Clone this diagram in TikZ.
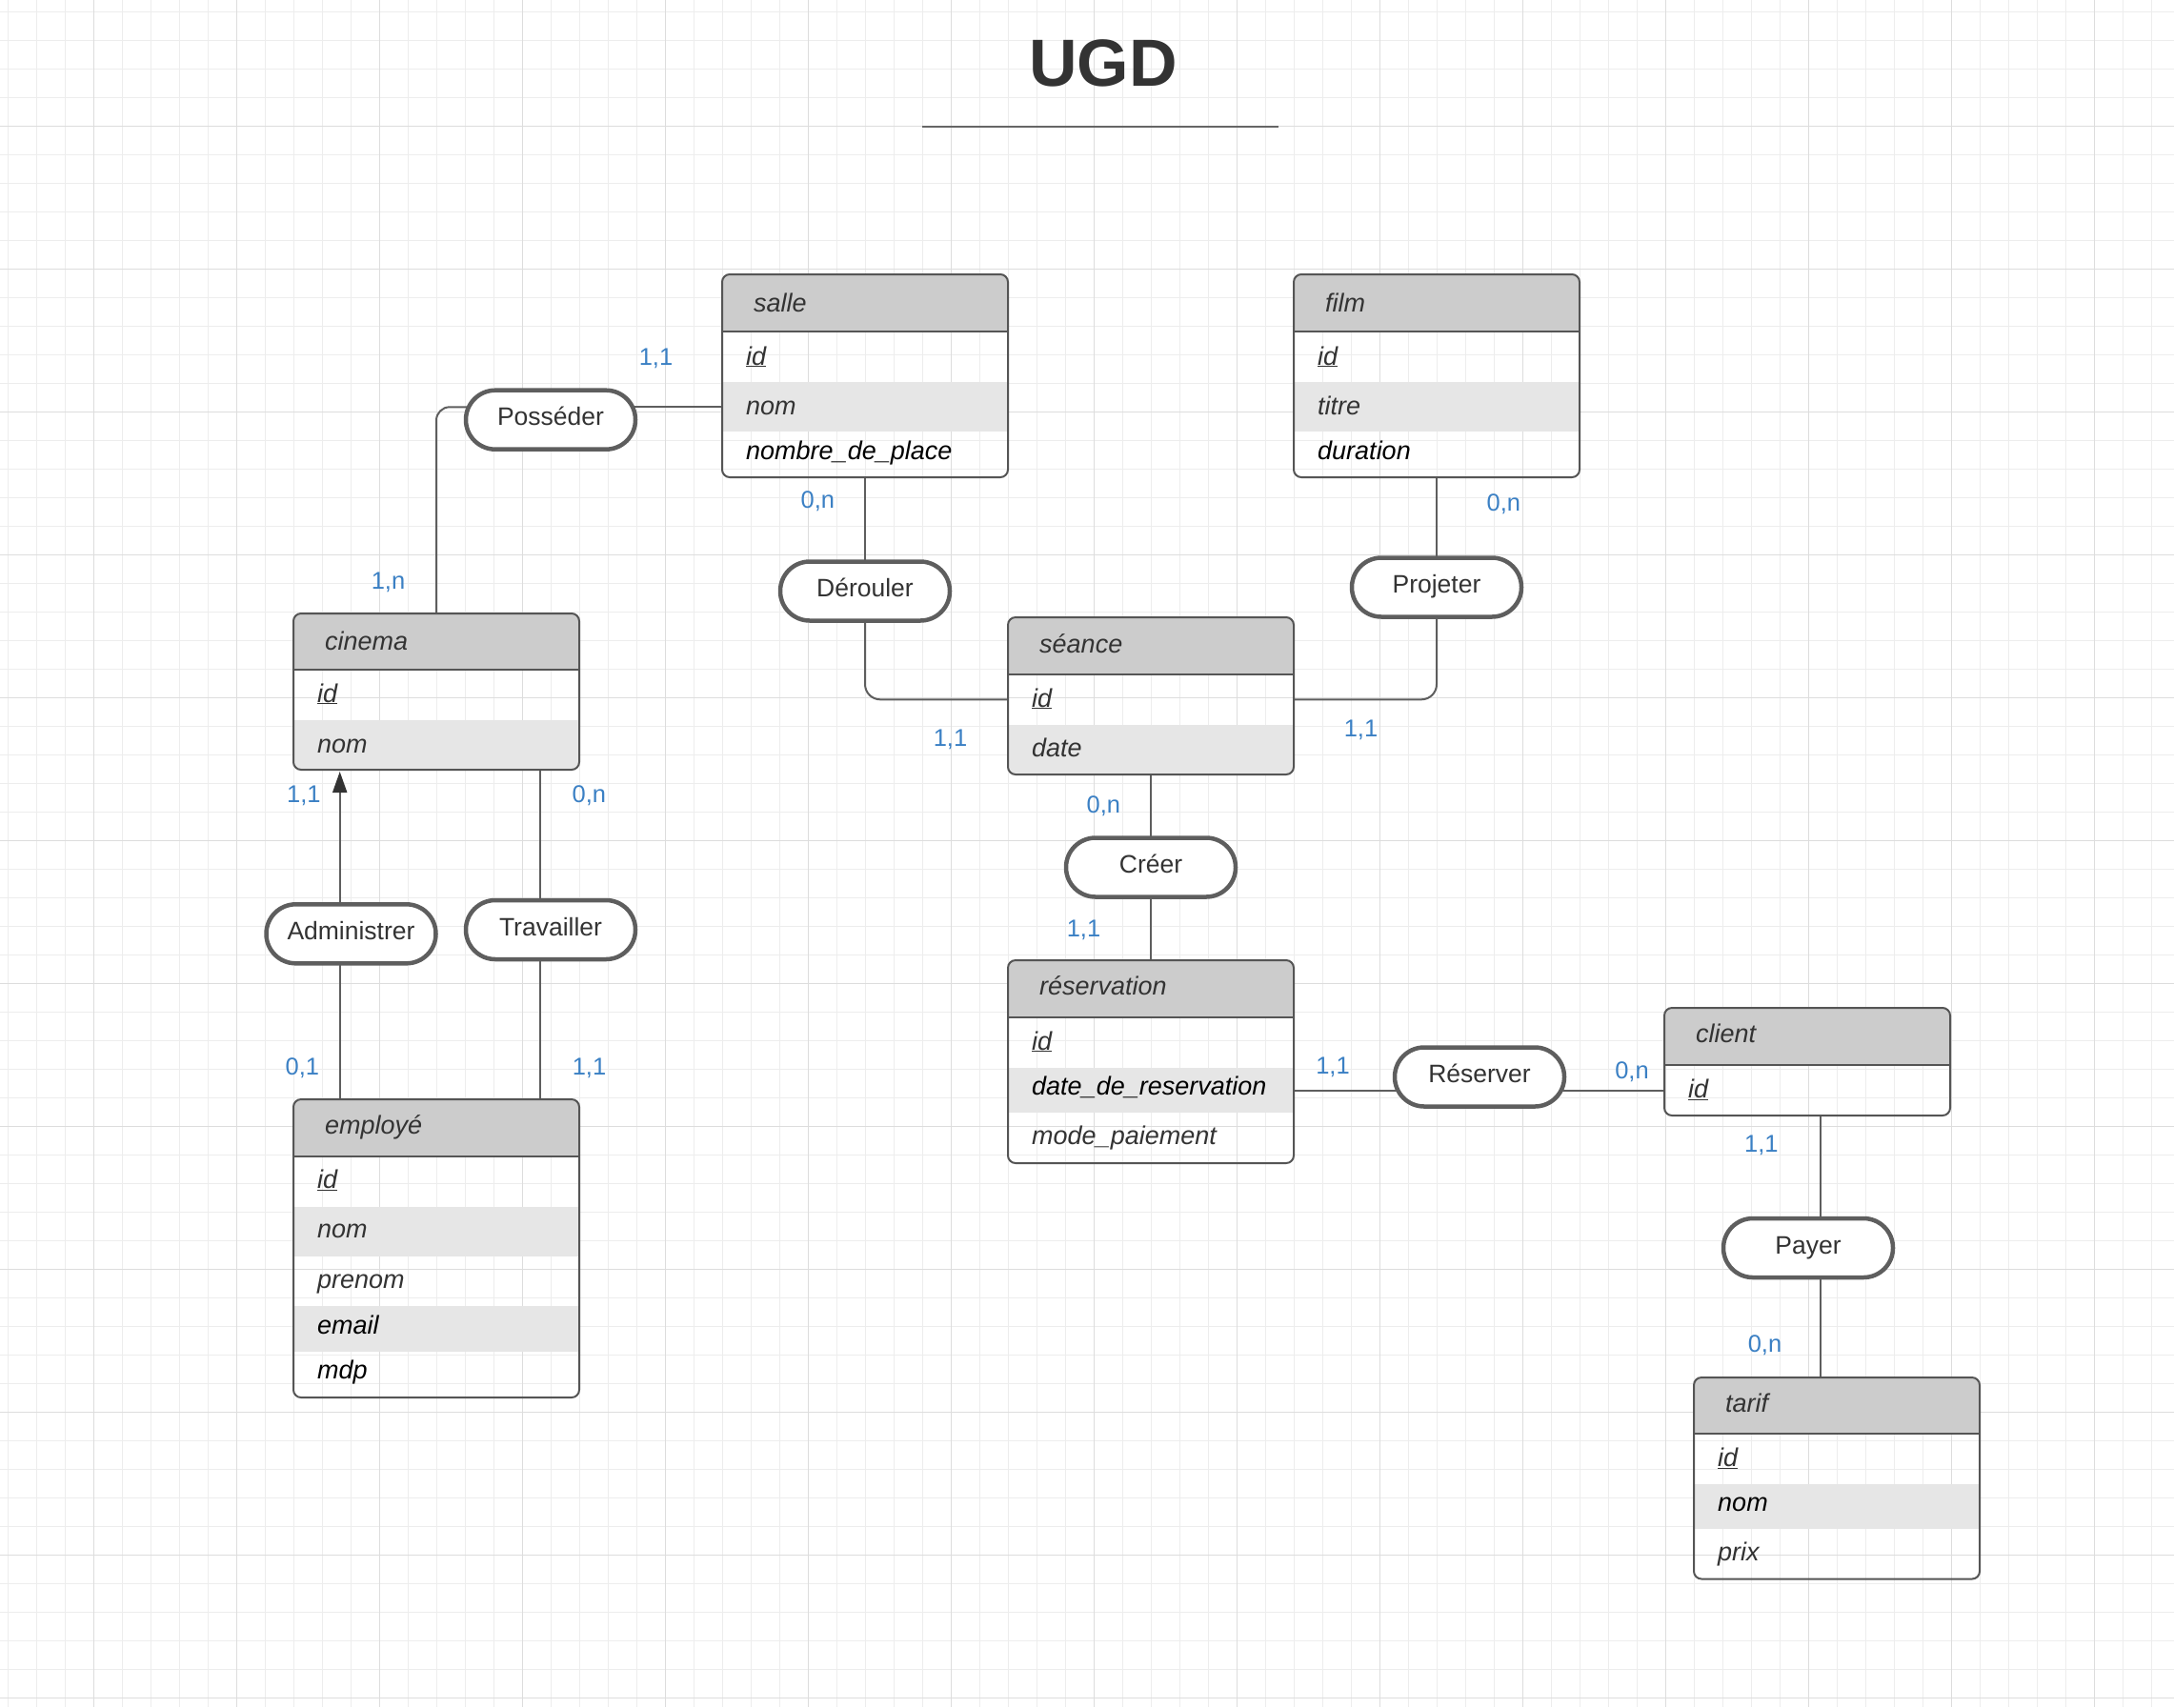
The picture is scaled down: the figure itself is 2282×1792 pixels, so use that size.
\documentclass[tikz,border=0pt]{standalone}
\usepackage{fontspec}
\setmainfont{Liberation Sans}
\usetikzlibrary{arrows.meta}
\pgfdeclarelayer{grid}
\pgfdeclarelayer{edges}
\pgfsetlayers{grid,edges,main}
\definecolor{c333}{HTML}{333333}
\definecolor{c555}{HTML}{555555}
\definecolor{c5e}{HTML}{5E5E5E}
\definecolor{c666}{HTML}{666666}
\definecolor{hdrgray}{HTML}{CCCCCC}
\definecolor{rowgray}{HTML}{E6E6E6}
\definecolor{gridminor}{HTML}{EDEDED}
\definecolor{gridmajor}{HTML}{DDDDDD}
\definecolor{lblue}{HTML}{3B80C4}
\tikzset{
  hdrfill/.style={fill=hdrgray},
  rowfill/.style={fill=rowgray},
  tablebox/.style={draw=c555, line width=2pt, rounded corners=8pt, minimum width=300pt, inner sep=0pt, outer sep=0pt},
  tableline/.style={draw=c555, line width=2pt},
  hdrtext/.style={anchor=base west, inner sep=0pt, text=c333, font=\itshape\fontsize{27}{32}\selectfont},
  rowtext/.style={anchor=base west, inner sep=0pt, text=c333, font=\itshape\fontsize{27}{32}\selectfont},
  rowblack/.style={rowtext, text=black},
  rel/.style={draw=c5e, line width=4.5pt, fill=white, rounded corners=30.9pt, minimum width=178pt, minimum height=62pt, inner sep=0pt, text height=19pt, text depth=7pt, text=c333, font=\fontsize{26.5}{31}\selectfont},
  conn/.style={draw=c5e, line width=2pt},
  card/.style={anchor=base, inner sep=0pt, text=lblue, font=\fontsize{25.5}{30}\selectfont},
  gmin/.style={draw=gridminor, line width=1pt},
  gmaj/.style={draw=gridmajor, line width=1pt}
}
\newcommand\ertab[8]{%
  \begin{scope}
    \clip[rounded corners=8pt] (#2,#3) rectangle (#2+300,#5);
    \fill[hdrfill] (#2,#3) rectangle (#2+300,#4);
    \foreach \ya/\yb in {#7}{\fill[rowfill] (#2,\ya) rectangle (#2+300,\yb);}
  \end{scope}
  \pgfmathsetmacro\tabh{#5-#3}
  \node[tablebox, minimum height=\tabh pt, anchor=north west] (#1) at (#2,#3) {};
  \draw[tableline] (#2,#4) -- (#2+300,#4);
  \node[hdrtext] (#1-title) at (#2+33,#8) {#6};
}
\begin{document}
\begin{tikzpicture}[x=1pt,y=-1pt]
\useasboundingbox (0,0) rectangle (2282,1792);
\begin{pgfonlayer}{grid}
  \fill[white] (0,0) rectangle (2282,1792);
  \foreach \i in {0,...,75} \draw[gmin] ({8.3+30*\i},0) -- ({8.3+30*\i},1792);
  \foreach \j in {0,...,59} \draw[gmin] (0,{12.3+30*\j}) -- (2282,{12.3+30*\j});
  \foreach \i in {0,...,14} \draw[gmaj] ({98.3+150*\i},0) -- ({98.3+150*\i},1792);
  \foreach \j in {0,...,11} \draw[gmaj] (0,{132.3+150*\j}) -- (2282,{132.3+150*\j});
\end{pgfonlayer}

% title
\node[anchor=base, inner sep=0pt, text=c333, font=\bfseries\fontsize{70}{84}\selectfont] (title) at (1158,90) {UGD};
\draw[line width=2pt, c666] (968,132.7) -- (1342,132.7);

% entity tables
\ertab{salle}{758}{288}{348}{501}{salle}{401/453}{327}
\node[rowtext] (salle-id) at (783,383) {\underline{id}};
\node[rowtext] (salle-nom) at (783,435) {nom};
\node[rowblack] (salle-nb) at (783,482) {nombre\_de\_place};

\ertab{film}{1358}{288}{348}{501}{film}{401/453}{327}
\node[rowtext] (film-id) at (1383,383) {\underline{id}};
\node[rowtext] (film-titre) at (1383,435) {titre};
\node[rowblack] (film-dur) at (1383,482) {duration};

\ertab{cinema}{308}{644}{703}{808}{cinema}{756/808}{682}
\node[rowtext] (cinema-id) at (333,737) {\underline{id}};
\node[rowtext] (cinema-nom) at (333,790) {nom};

\ertab{seance}{1058}{648}{708}{813}{séance}{761/813}{685}
\node[rowtext] (seance-id) at (1083,742) {\underline{id}};
\node[rowtext] (seance-date) at (1083,794) {date};

\ertab{reservation}{1058}{1008}{1068}{1221}{réservation}{1121/1168}{1044}
\node[rowtext] (res-id) at (1083,1102) {\underline{id}};
\node[rowblack] (res-date) at (1083,1149) {date\_de\_reservation};
\node[rowtext] (res-mode) at (1083,1201) {mode\_paiement};

\ertab{client}{1747}{1058}{1118}{1171}{client}{1118/1118}{1094}
\node[rowtext] (client-id) at (1772,1152.5) {\underline{id}};

\ertab{tarif}{1778}{1446}{1505}{1657.5}{tarif}{1558/1605}{1482}
\node[rowtext] (tarif-id) at (1803,1539.5) {\underline{id}};
\node[rowblack] (tarif-nom) at (1803,1586) {nom};
\node[rowtext] (tarif-prix) at (1803,1638.5) {prix};

\ertab{employe}{308}{1154}{1214}{1467}{employé}{1267/1319,1371/1419}{1190}
\node[rowtext] (emp-id) at (333,1247) {\underline{id}};
\node[rowtext] (emp-nom) at (333,1299) {nom};
\node[rowtext] (emp-prenom) at (333,1352) {prenom};
\node[rowblack] (emp-email) at (333,1400) {email};
\node[rowblack] (emp-mdp) at (333,1447) {mdp};

% relationships
\node[rel] (possed) at (578,440.7) {Posséder};
\node[rel] (derouler) at (908,620.5) {Dérouler};
\node[rel] (projeter) at (1508,616.5) {Projeter};
\node[rel] (creer) at (1208,910.5) {Créer};
\node[rel] (reserver) at (1553,1130.5) {Réserver};
\node[rel] (payer) at (1898,1310) {Payer};
\node[rel] (administrer) at (368.5,980.3) {Administrer};
\node[rel] (travailler) at (578,976) {Travailler};

% connector end points
\coordinate (salle-nomW) at (758,427.3);
\coordinate (seance-idW) at (1058,734.3);
\coordinate (seance-idE) at (1358,734.3);
\coordinate (res-dateE) at (1358,1144.5);
\coordinate (client-idW) at (1747,1144.5);
\coordinate (client-payS) at (1911,1171);
\coordinate (tarif-payN) at (1911,1446);
\coordinate (cinema-admS) at (356.7,810);
\coordinate (cinema-travS) at (566.7,808);
\coordinate (emp-admN) at (356.7,1154);
\coordinate (emp-travN) at (566.7,1154);

\begin{pgfonlayer}{edges}
  \draw[conn] (possed.center |- salle-nomW) -- (salle-nomW);
  \draw[conn, rounded corners=14pt] (possed.center |- salle-nomW) -| (cinema.north);
  \draw[conn] (salle.south) -- (derouler.center);
  \draw[conn, rounded corners=16pt] (derouler.center) |- (seance-idW);
  \draw[conn] (film.south) -- (projeter.center);
  \draw[conn, rounded corners=16pt] (projeter.center) |- (seance-idE);
  \draw[conn] (seance.south) -- (creer.center);
  \draw[conn] (creer.center) -- (reservation.north);
  \draw[conn] (res-dateE) -- (res-dateE -| reserver.center);
  \draw[conn] (res-dateE -| reserver.center) -- (client-idW);
  \draw[conn] (client-payS) -- (client-payS |- payer.center);
  \draw[conn] (client-payS |- payer.center) -- (tarif-payN);
  \draw[conn] (cinema-travS) -- (cinema-travS |- travailler.center);
  \draw[conn] (cinema-travS |- travailler.center) -- (emp-travN);
  \draw[conn] (emp-admN) -- (emp-admN |- administrer.center);
  \draw[conn, -{Triangle[width=15pt,length=22pt,color=c333,fill=c333]}] (emp-admN |- administrer.center) -- (cinema-admS);
\end{pgfonlayer}

% cardinalities
\node[card] (l1) at (688.5,383.3) {1,1};
\node[card] (l2) at (407.5,618.3) {1,n};
\node[card] (l3) at (858.3,533.3) {0,n};
\node[card] (l4) at (997.5,783.3) {1,1};
\node[card] (l5) at (1578.3,536.7) {0,n};
\node[card] (l6) at (1428.5,773.3) {1,1};
\node[card] (l7) at (1158.3,853.3) {0,n};
\node[card] (l8) at (1137.5,983.3) {1,1};
\node[card] (l9) at (1399,1127.5) {1,1};
\node[card] (l10) at (1713,1132) {0,n};
\node[card] (l11) at (1848.8,1209.5) {1,1};
\node[card] (l12) at (1852.5,1419.7) {0,n};
\node[card] (l13) at (318.8,842.7) {1,1};
\node[card] (l14) at (618.3,842.7) {0,n};
\node[card] (l15) at (317.3,1128) {0,1};
\node[card] (l16) at (618.5,1128) {1,1};
\end{tikzpicture}
\end{document}
